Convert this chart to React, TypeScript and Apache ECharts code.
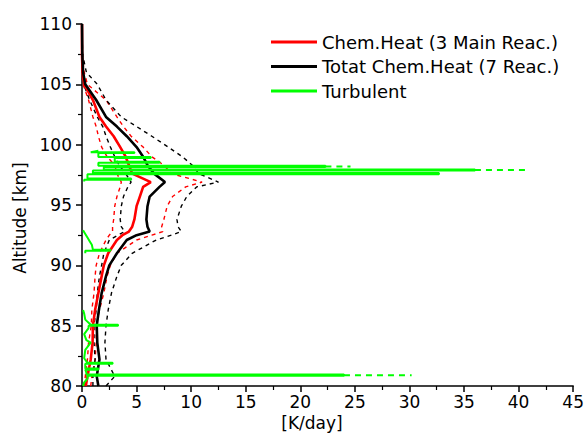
import { useEffect, useRef } from "react";
import * as echarts from "echarts";

// Altitude grid (km) for the chemical heating profiles
const altitudeKm = [80, 80.8, 82.2, 83.6, 85, 86.3, 87.7, 89.1, 90, 91, 92.1, 92.5, 92.8, 93.2, 93.8, 94.9, 95.7, 96.5, 96.9, 97.6, 98.3, 99, 99.8, 100.7, 101.5, 102.3, 103.7, 105, 106, 107.5, 110];

// Chem.Heat (3 Main Reac.) [K/day]
const chem3 = [0.35, 0.5, 0.8, 0.97, 1.0, 1.2, 1.5, 1.8, 2.0, 2.4, 3.2, 3.7, 4.3, 4.6, 4.8, 5.0, 5.3, 5.6, 6.3, 4.6, 4.3, 4.0, 3.5, 2.9, 2.2, 1.6, 1.0, 0.2, 0.05, 0, 0];
const chem3Low = [0.2, 0.3, 0.5, 0.6, 0.85, 0.9, 1.1, 1.2, 1.3, 1.6, 2.2, 2.5, 2.8, 2.8, 2.9, 3.0, 3.2, 3.5, 3.6, 3.2, 3.0, 2.3, 1.8, 1.5, 1.3, 1.0, 0.6, 0.1, 0, 0, 0];
const chem3High = [0.8, 0.9, 1.2, 1.3, 1.3, 1.6, 2.0, 2.3, 2.6, 3.2, 5.0, 6.4, 7.4, 7.3, 7.5, 7.8, 8.3, 9.5, 11.0, 8.2, 7.5, 6.4, 5.6, 4.5, 3.8, 3.2, 2.2, 0.5, 0.2, 0.02, 0];

// Totat Chem.Heat (7 Reac.) [K/day]
const chem7 = [1.5, 1.35, 1.6, 1.4, 1.35, 1.55, 1.8, 2.2, 2.5, 3.2, 4.1, 5.0, 6.2, 6.0, 5.9, 6.0, 6.2, 7.1, 7.6, 6.6, 6.0, 5.6, 5.0, 4.1, 3.2, 2.2, 1.3, 0.3, 0.1, 0.03, 0];
const chem7Low = [1.0, 1.0, 1.2, 1.1, 1.1, 1.3, 1.4, 1.6, 1.8, 2.0, 2.5, 3.3, 3.9, 3.6, 3.5, 3.6, 3.8, 4.2, 4.5, 4.0, 3.4, 3.0, 2.6, 2.2, 1.9, 1.4, 0.7, 0.15, 0.05, 0, 0];
const chem7High = [2.2, 3.0, 2.2, 2.1, 2.2, 2.4, 2.7, 3.2, 3.6, 4.6, 6.8, 8.2, 9.1, 8.8, 8.7, 9.1, 9.6, 10.5, 12.5, 10.7, 10.1, 9.2, 7.9, 6.4, 5.0, 3.6, 2.2, 1.4, 0.4, 0.05, 0];

// Turbulent heating (null = no data)
const turbAlt = [
  80.0, 80.3, 80.6, 80.85, 80.85, 80.95, 80.95, 81.1, 81.35, 81.35, 81.45, 81.45, 81.85, 81.85, 81.92, 81.92,
  82.3, 83.0, 83.6, 83.8, 84.3, 84.8, 85.0, 85.0, 85.08, 85.08, 85.5, 86.0, 86.3, null,
  91.0, 91.2, 91.2, 91.3, 91.3, 91.7, 92.0, 92.3, 92.6, 92.9, null,
  96.95, 97.1, 97.1, 97.2, 97.2, 97.55, 97.55, 97.65, 97.65, 97.85, 97.85, 97.95, 97.95,
  98.15, 98.15, 98.25, 98.25, 98.5, 98.5, 98.58, 98.58, 98.9, 98.9, 98.98, 98.98,
  99.3, 99.3, 99.38, 99.38, 99.5,
];
const turbVal = [
  0.1, 0.2, 0.5, 0.5, 24.0, 24.0, 0.4, 0.4, 0.3, 1.5, 1.5, 0.3, 0.3, 2.8, 2.8, 0.5,
  0.2, 0.3, 0.8, 0.4, 0.2, 0.6, 0.6, 3.3, 3.3, 0.8, 0.3, 0.2, 0.1, null,
  0.3, 0.3, 2.6, 2.6, 1.0, 0.9, 0.7, 0.5, 0.3, 0.1, null,
  0.2, 0.2, 4.5, 4.5, 0.5, 0.5, 32.7, 32.7, 1.0, 1.0, 36.0, 36.0, 2.0,
  2.0, 22.3, 22.3, 1.5, 1.5, 7.1, 7.1, 3.0, 3.0, 6.3, 6.3, 1.5,
  1.5, 4.8, 4.8, 0.8, 1.5,
];

// Turbulent upper-bound extension (dashed)
const turbHighAlt = [80.9, 80.9, null, 97.9, 97.9, null, 98.2, 98.2];
const turbHighVal = [24.0, 30.2, null, 36.0, 41.0, null, 22.3, 24.6];

const xTicks = { min: 0, max: 45, interval: 5 };
const yTicks = { min: 80, max: 110, interval: 5 };

const NAME_RED = "Chem.Heat (3 Main Reac.)";
const NAME_BLACK = "Totat Chem.Heat (7 Reac.)";
const NAME_GREEN = "Turbulent";

const FONT = "DejaVu Sans";

function pairs(vals: (number | null)[], alts: (number | null)[]) {
  return vals.map((v, i) => (v === null || alts[i] === null ? ["-", "-"] : [v, alts[i]]));
}

export default function App() {
  const ref = useRef<HTMLDivElement>(null);
  useEffect(() => {
    const chart = echarts.init(ref.current!, null, { renderer: "svg" });
    const dashed = (name: string, vals: number[], color: string) => ({
      name,
      type: "line",
      data: pairs(vals, altitudeKm),
      symbol: "none",
      color,
      lineStyle: { color, width: 1.4, type: [4, 4] },
      z: 2,
    });
    const axisCommon = {
      type: "value",
      axisLine: { show: true, lineStyle: { color: "#000", width: 1.5 } },
      axisTick: { show: true, inside: false, length: 6, lineStyle: { color: "#000", width: 1.5 } },
      minorTick: { show: true, splitNumber: 2, length: 4, lineStyle: { color: "#000", width: 1.2 } },
      splitLine: { show: false },
      minorSplitLine: { show: false },
    };
    chart.setOption({
      animation: false,
      backgroundColor: "#fff",
      grid: { left: 82, right: 10, top: 24, bottom: 51 },
      xAxis: {
        ...axisCommon,
        min: xTicks.min,
        max: xTicks.max,
        interval: xTicks.interval,
        axisLabel: { color: "#000", fontSize: 17, fontFamily: FONT, margin: 7 },
      },
      yAxis: {
        ...axisCommon,
        min: yTicks.min,
        max: yTicks.max,
        interval: yTicks.interval,
        axisLabel: { color: "#000", fontSize: 17, fontFamily: FONT, margin: 10 },
      },
      legend: {
        data: [NAME_RED, NAME_BLACK, NAME_GREEN],
        orient: "vertical",
        left: 266,
        top: 28,
        icon: "rect",
        itemWidth: 46,
        itemHeight: 3,
        itemGap: 6.5,
        textStyle: { color: "#000", fontSize: 18, fontFamily: FONT },
      },
      graphic: [
        {
          type: "text",
          x: 20,
          y: 218,
          rotation: Math.PI / 2,
          style: { text: "Altitude [km]", fill: "#000", font: `17px "${FONT}"`, textAlign: "center", textVerticalAlign: "middle" },
        },
        {
          type: "text",
          x: 312,
          y: 423,
          style: { text: "[K/day]", fill: "#000", font: `17px "${FONT}"`, textAlign: "center", textVerticalAlign: "middle" },
        },
      ],
      series: [
        dashed("Chem.Heat low", chem3Low, "#ff0000"),
        dashed("Chem.Heat high", chem3High, "#ff0000"),
        dashed("Total low", chem7Low, "#000000"),
        dashed("Total high", chem7High, "#000000"),
        {
          name: NAME_RED,
          type: "line",
          data: pairs(chem3, altitudeKm),
          symbol: "none",
          color: "#ff0000",
          lineStyle: { color: "#ff0000", width: 2.6 },
          z: 3,
        },
        {
          name: NAME_BLACK,
          type: "line",
          data: pairs(chem7, altitudeKm),
          symbol: "none",
          color: "#000000",
          lineStyle: { color: "#000000", width: 2.6 },
          z: 4,
        },
        {
          name: "Turbulent high",
          type: "line",
          data: pairs(turbHighVal, turbHighAlt),
          symbol: "none",
          connectNulls: false,
          color: "#00ff00",
          lineStyle: { color: "#00ff00", width: 2, type: [6, 5] },
          z: 5,
        },
        {
          name: NAME_GREEN,
          type: "line",
          data: pairs(turbVal, turbAlt),
          symbol: "none",
          connectNulls: false,
          color: "#00ff00",
          lineStyle: { color: "#00ff00", width: 2 },
          z: 6,
        },
      ],
    });
    return () => chart.dispose();
  }, []);
  return <div ref={ref} style={{ position: "absolute", left: 0, top: 0, width: 587, height: 437 }} />;
}
